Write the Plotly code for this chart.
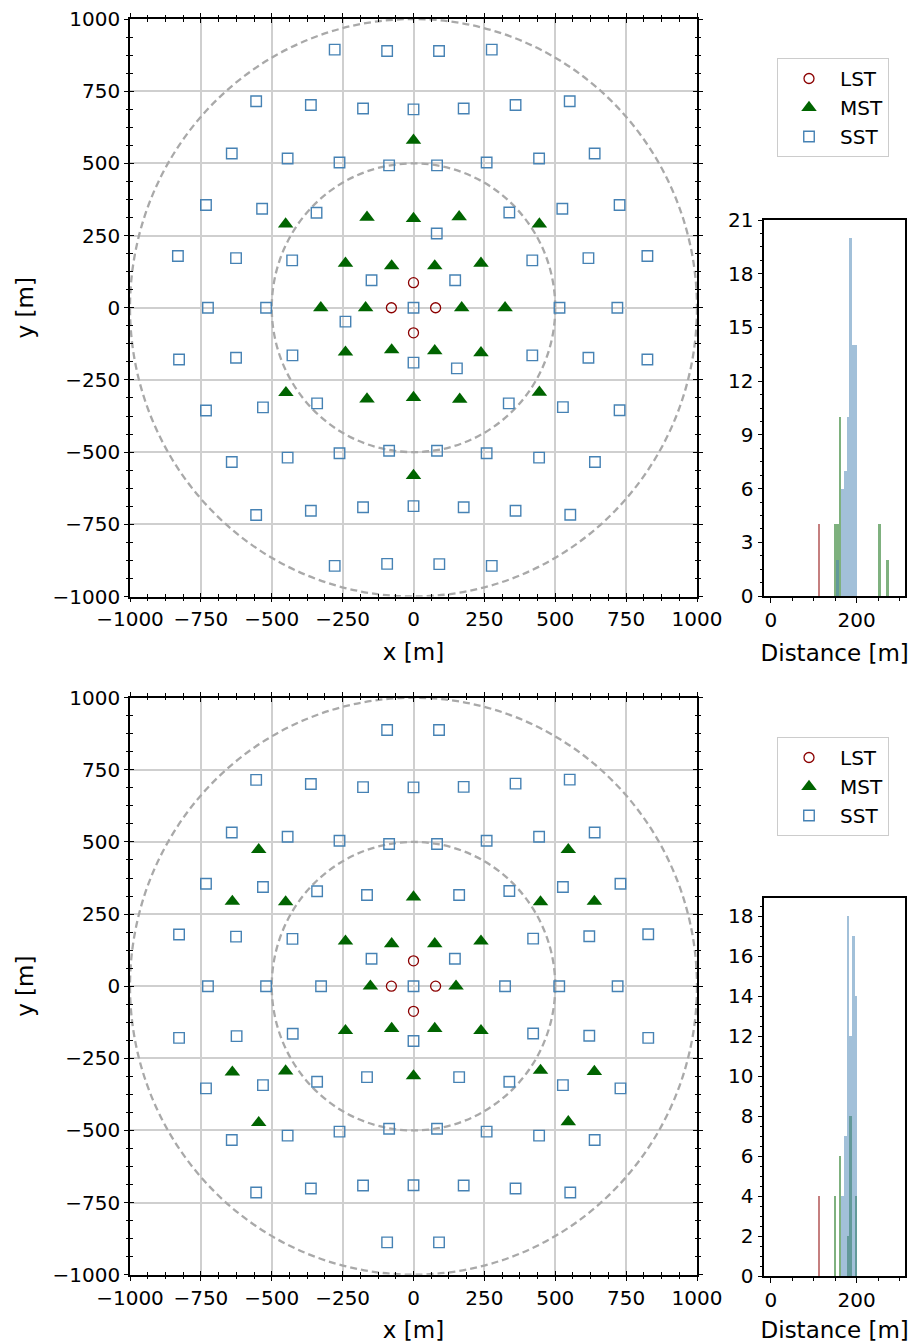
import plotly.graph_objects as go

# ---------------- data: top layout ----------------
top_lst_x = [0, -78, 78, 0]
top_lst_y = [87, 0, 0, -87]

top_mst_x = [0, -451, -164, 0, 161, 444, -240, -77, 75, 238, -327, -169, 170, 323,
             -240, -77, 75, 238, -450, -164, 0, 163, 444, 0]
top_mst_y = [580, 290, 313, 309, 315, 290, 154, 145, 145, 154, 0, 0, 0, 0,
             -154, -146, -149, -156, -294, -316, -311, -317, -293, -581]

top_sst_x = [-278, -93, 90, 276,
             -555, -362, -178, 0, 177, 360, 551,
             -641, -444, -261, -86, 83, 258, 443, 639,
             -732, -534, -342, 338, 525, 727,
             -831, -626, -428, 419, 617, 825,
             -725, -520, 0, 515, 719,
             82, -148, 147, -240, 0, 153,
             -827, -626, -427, 419, 617, 825,
             -732, -531, -340, 336, 527, 727,
             -641, -444, -261, -86, 83, 258, 443, 640,
             -555, -362, -178, 0, 177, 360, 553,
             -278, -93, 91, 276]
top_sst_y = [894, 889, 889, 894,
             715, 702, 690, 687, 690, 702, 715,
             534, 517, 503, 493, 493, 503, 517, 534,
             356, 343, 329, 330, 343, 356,
             179, 172, 164, 164, 172, 179,
             0, 0, 0, 0, 0,
             257, 95, 95, -48, -190, -210,
             -179, -173, -165, -165, -173, -179,
             -356, -345, -331, -331, -344, -355,
             -534, -519, -504, -495, -495, -504, -519, -534,
             -718, -703, -691, -687, -691, -703, -717,
             -894, -887, -888, -894]

# ---------------- data: bottom layout ----------------
bot_lst_x = [0, -78, 78, 0]
bot_lst_y = [88, 0, 0, -87]

bot_mst_x = [-546, 546, -639, -451, 0, 448, 638, -240, -77, 75, 238, -152, 150,
             -240, -77, 75, 238, -639, -451, 0, 448, 638, -546, 546]
bot_mst_y = [473, 473, 294, 292, 309, 292, 294, 156, 147, 147, 156, 0, 0,
             -154, -147, -147, -154, -298, -294, -311, -292, -296, -473, -470]

bot_sst_x = [-93, 90,
             -555, -362, -178, 0, 177, 360, 551,
             -641, -444, -261, -86, 83, 258, 443, 639,
             -732, -531, -340, -164, 161, 338, 527, 730,
             -827, -626, -427, 422, 620, 828,
             -725, -520, -326, 0, 323, 514, 720,
             -148, 146, 0,
             -827, -624, -426, 422, 620, 828,
             -732, -531, -340, -164, 161, 338, 527, 730,
             -641, -444, -261, -86, 83, 258, 443, 639,
             -555, -362, -178, 0, 177, 360, 553,
             -93, 90]
bot_sst_y = [888, 888,
             715, 701, 690, 689, 691, 702, 716,
             533, 518, 504, 493, 493, 504, 518, 533,
             355, 344, 329, 316, 316, 330, 344, 355,
             179, 172, 164, 165, 173, 180,
             0, 0, 0, 0, 0, 0, 0,
             95, 95, -190,
             -179, -173, -165, -164, -172, -179,
             -354, -343, -331, -315, -315, -331, -343, -354,
             -533, -518, -504, -494, -494, -504, -518, -533,
             -715, -701, -691, -690, -691, -701, -715,
             -888, -888]

ring_radii = [500, 1000]

# ---------------- data: histograms (bin centres / counts) ----------------
bin_width = 6.1224
top_hist_lst_c = [113.27]
top_hist_lst_n = [4]
top_hist_mst_c = [150.0, 156.12, 162.24, 254.08, 272.45]
top_hist_mst_n = [4, 4, 10, 4, 2]
top_hist_sst_c = [156.12, 168.37, 174.49, 180.61, 186.73, 192.86, 198.98]
top_hist_sst_n = [2, 6, 7, 10, 20, 14, 14]

bot_hist_lst_c = [113.27]
bot_hist_lst_n = [4]
bot_hist_mst_c = [150.0, 162.24, 180.61, 186.73, 198.98]
bot_hist_mst_n = [4, 6, 2, 8, 4]
bot_hist_sst_c = [168.37, 174.49, 180.61, 186.73, 192.86, 198.98]
bot_hist_sst_n = [4, 7, 18, 12, 17, 14]

# ---------------- styling ----------------
FONT = "DejaVu Sans"
RED, GREEN, BLUE = "#8b0000", "#006400", "#4682b4"
W, H = 913, 1343

def px_x(p):
    return p / W

def px_y(p):
    return 1 - p / H

fig = go.Figure()

def add_layout_traces(lx, ly, mx, my, sx, sy, xa, ya, legend):
    fig.add_trace(go.Scatter(x=lx, y=ly, mode="markers", name="LST", xaxis=xa, yaxis=ya,
                             legend=legend,
                             marker=dict(symbol="circle-open", size=10, color=RED,
                                         line=dict(width=1.3, color=RED))))
    fig.add_trace(go.Scatter(x=mx, y=my, mode="markers", name="MST", xaxis=xa, yaxis=ya,
                             legend=legend,
                             marker=dict(symbol="triangle-up", size=13.5, color=GREEN,
                                         line=dict(width=0))))
    fig.add_trace(go.Scatter(x=sx, y=sy, mode="markers", name="SST", xaxis=xa, yaxis=ya,
                             legend=legend,
                             marker=dict(symbol="square-open", size=10.5, color=BLUE,
                                         line=dict(width=1.4, color=BLUE))))

add_layout_traces(top_lst_x, top_lst_y, top_mst_x, top_mst_y, top_sst_x, top_sst_y,
                  "x", "y", "legend")
add_layout_traces(bot_lst_x, bot_lst_y, bot_mst_x, bot_mst_y, bot_sst_x, bot_sst_y,
                  "x2", "y2", "legend2")

def add_hist(lc, ln, mc, mn, sc, sn, xa, ya):
    for c, n, col in ((lc, ln, RED), (mc, mn, GREEN), (sc, sn, BLUE)):
        fig.add_trace(go.Bar(x=c, y=n, width=bin_width, xaxis=xa, yaxis=ya,
                             marker=dict(color=col, line=dict(width=0)),
                             opacity=0.5, showlegend=False, hoverinfo="skip"))

add_hist(top_hist_lst_c, top_hist_lst_n, top_hist_mst_c, top_hist_mst_n,
         top_hist_sst_c, top_hist_sst_n, "x3", "y3")
add_hist(bot_hist_lst_c, bot_hist_lst_n, bot_hist_mst_c, bot_hist_mst_n,
         bot_hist_sst_c, bot_hist_sst_n, "x4", "y4")

# dummy traces for the overlay axes that carry the inward half of the ticks
for xa, ya in (("x5", "y5"), ("x6", "y6")):
    fig.add_trace(go.Scatter(x=[None], y=[None], xaxis=xa, yaxis=ya, showlegend=False,
                             hoverinfo="skip", mode="markers"))

tickfont = dict(family=FONT, size=20, color="black")
titlefont = dict(family=FONT, size=23, color="black")

top_dom_x = [px_x(130), px_x(697)]
top_dom_y = [px_y(596.5), px_y(19)]
bot_dom_y = [px_y(1274.7), px_y(697.7)]
hist_dom_x = [px_x(764.3), px_x(905)]
top_hist_dom_y = [px_y(596), px_y(220)]
bot_hist_dom_y = [px_y(1276), px_y(898.3)]

def scatter_axis(dom, anchor, title, standoff):
    return dict(domain=dom, anchor=anchor, range=[-1000, 1000], tick0=0, dtick=250,
                automargin=False, ticklabeloverflow="allow",
                showgrid=True, gridcolor="#cfcfcf", gridwidth=1.6, zeroline=False,
                showline=True, linecolor="black", linewidth=1.6, mirror="allticks",
                ticks="outside", ticklen=4, tickwidth=1.3, tickcolor="black",
                minor=dict(dtick=62.5, tick0=0, ticks="outside", ticklen=2.5,
                           tickwidth=1, tickcolor="black", showgrid=False),
                tickfont=tickfont,
                title=dict(text=title, font=titlefont, standoff=standoff),
                fixedrange=True)

def overlay_axis(dom, anchor, over):
    return dict(domain=dom, anchor=anchor, overlaying=over, range=[-1000, 1000],
                automargin=False,
                tick0=0, dtick=250, showgrid=False, zeroline=False, showline=False,
                mirror="allticks", ticks="inside", ticklen=4, tickwidth=1.3,
                tickcolor="black", showticklabels=False,
                minor=dict(dtick=62.5, tick0=0, ticks="inside", ticklen=2.5,
                           tickwidth=1, tickcolor="black", showgrid=False))

def hist_x_axis(dom_y_anchor):
    return dict(domain=hist_dom_x, anchor=dom_y_anchor, range=[-15, 312.5],
                automargin=False, ticklabeloverflow="allow",
                tick0=0, dtick=200, showgrid=False, zeroline=False,
                showline=True, linecolor="black", linewidth=1.6, mirror=True,
                ticks="outside", ticklen=5, tickwidth=1.3, tickcolor="black",
                minor=dict(dtick=50, tick0=0, ticks="outside", ticklen=3,
                           tickwidth=1, tickcolor="black", showgrid=False),
                tickfont=tickfont,
                title=dict(text="Distance [m]", font=titlefont, standoff=14))

def hist_y_axis(dom, anchor, rng, dtick, mdtick):
    return dict(domain=dom, anchor=anchor, range=rng, tick0=0, dtick=dtick,
                automargin=False, ticklabeloverflow="allow",
                showgrid=False, zeroline=False,
                showline=True, linecolor="black", linewidth=1.6, mirror=True,
                ticks="outside", ticklen=5, tickwidth=1.3, tickcolor="black",
                minor=dict(dtick=mdtick, tick0=0, ticks="outside", ticklen=3,
                           tickwidth=1, tickcolor="black", showgrid=False),
                tickfont=tickfont)

shapes = []
for yref, xref in (("y", "x"), ("y2", "x2")):
    for r in ring_radii:
        shapes.append(dict(type="circle", xref=xref, yref=yref,
                           x0=-r, x1=r, y0=-r, y1=r, layer="between",
                           line=dict(color="#a9a9a9", width=2.3, dash="7px,4px")))

legend_style = dict(font=dict(family=FONT, size=20, color="black"),
                    bgcolor="white", bordercolor="#cccccc", borderwidth=1,
                    itemwidth=52,
                    xanchor="left", yanchor="top", itemclick=False, itemdoubleclick=False)

fig.update_layout(
    width=W, height=H,
    margin=dict(l=0, r=0, t=0, b=0, autoexpand=False),
    paper_bgcolor="white", plot_bgcolor="white",
    font=dict(family=FONT, size=20, color="black"),
    barmode="overlay", bargap=0,
    xaxis=scatter_axis(top_dom_x, "y", "x [m]", 14),
    yaxis=scatter_axis(top_dom_y, "x", "y [m]", 12),
    xaxis2=scatter_axis(top_dom_x, "y2", "x [m]", 14),
    yaxis2=scatter_axis(bot_dom_y, "x2", "y [m]", 12),
    xaxis3=hist_x_axis("y3"),
    yaxis3=hist_y_axis(top_hist_dom_y, "x3", [0, 21], 3, 0.75),
    xaxis4=hist_x_axis("y4"),
    yaxis4=hist_y_axis(bot_hist_dom_y, "x4", [0, 18.9], 2, 0.5),
    xaxis5=overlay_axis(top_dom_x, "y5", "x"),
    yaxis5=overlay_axis(top_dom_y, "x5", "y"),
    xaxis6=overlay_axis(top_dom_x, "y6", "x2"),
    yaxis6=overlay_axis(bot_dom_y, "x6", "y2"),
    shapes=shapes,
    legend=dict(x=px_x(777), y=px_y(58), **legend_style),
    legend2=dict(x=px_x(777), y=px_y(737), **legend_style),
)

# remove the browser's default 8px page margin so the figure sits at (0, 0)
fig.write_html("out.html",
               config={"displayModeBar": False},
               post_script="document.body.style.margin='0';"
                           "document.body.style.overflow='hidden';")
